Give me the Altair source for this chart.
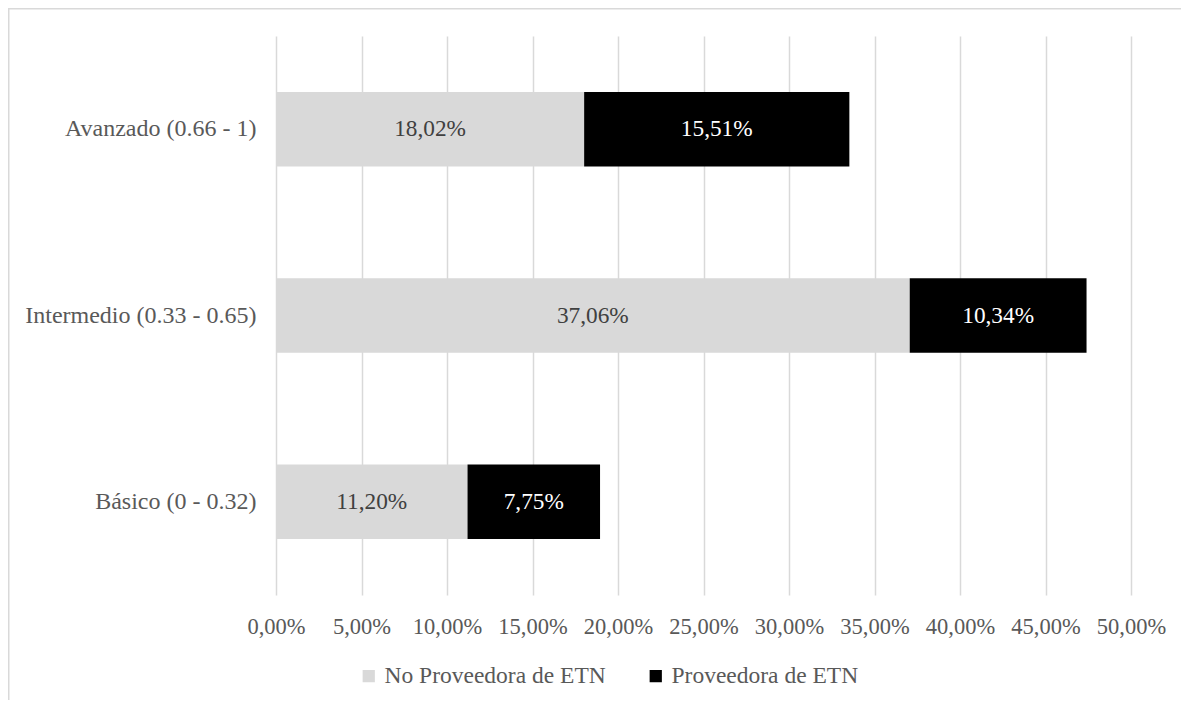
import altair as alt
import pandas as pd

categories = ["Avanzado (0.66 - 1)", "Intermedio (0.33 - 0.65)", "Básico (0 - 0.32)"]
series = ["No Proveedora de ETN", "Proveedora de ETN"]
no_proveedora = [18.02, 37.06, 11.20]
proveedora = [15.51, 10.34, 7.75]
x_ticks = [0, 5, 10, 15, 20, 25, 30, 35, 40, 45, 50]

rows = []
for i, c in enumerate(categories):
    rows.append({"cat": c, "serie": series[0], "ord": 0, "value": no_proveedora[i]})
    rows.append({"cat": c, "serie": series[1], "ord": 1, "value": proveedora[i]})
df = pd.DataFrame(rows)

FONT = "Liberation Serif"
color_scale = alt.Scale(domain=series, range=["#D9D9D9", "#000000"])

base = alt.Chart(df).transform_stack(
    stack="value", groupby=["cat"], sort=[alt.SortField("ord", order="ascending")], as_=["x0", "x1"]
).transform_calculate(
    mid="(datum.x0 + datum.x1) / 2",
    label="replace(format(datum.value, '.2f'), '.', ',') + '%'",
)

y_enc = alt.Y("cat:N", sort=categories, title=None,
              scale=alt.Scale(paddingInner=0.6, paddingOuter=0.3),
              axis=alt.Axis(labelFontSize=24, labelColor="#595959", labelFont=FONT,
                            labelPadding=20, ticks=False, domain=False, grid=False,
                            labelLimit=300))

bars = base.mark_bar().encode(
    x=alt.X("x0:Q", title=None,
            scale=alt.Scale(domain=[0, 50], nice=False),
            axis=alt.Axis(values=x_ticks, labelExpr="replace(format(datum.value, '.2f'), '.', ',') + '%'",
                          labelFontSize=22.5, labelColor="#595959", labelFont=FONT,
                          labelPadding=20, ticks=False, domain=False, labelOverlap=False,
                          labelFlush=False, labelAlign="center",
                          grid=True, gridColor="#D9D9D9", gridWidth=1.5)),
    x2="x1:Q",
    y=y_enc,
    color=alt.Color("serie:N", scale=color_scale, sort=series, title=None,
                    legend=alt.Legend(orient="none", legendX=81, legendY=628,
                                      direction="horizontal", symbolType="square",
                                      symbolSize=150, symbolStrokeWidth=0,
                                      labelFontSize=23.5, labelColor="#595959", labelFont=FONT,
                                      labelLimit=400, columnPadding=38, labelOffset=4)),
)

text = base.mark_text(font=FONT, fontSize=23.3).encode(
    x="mid:Q",
    y=alt.Y("cat:N", sort=categories),
    text="label:N",
    color=alt.Color("serie:N", scale=alt.Scale(domain=series, range=["#404040", "#FFFFFF"]), legend=None),
)

frame = alt.Chart(pd.DataFrame({"k": [0]})).mark_rect(
    fill="white", fillOpacity=0, stroke="#D9D9D9", strokeWidth=1.5
).encode(x=alt.value(-267.25), x2=alt.value(1000), y=alt.value(-27.25), y2=alt.value(800))

chart = alt.layer(frame, bars, text).resolve_scale(color="independent").properties(
    width=855, height=559,
    autosize=alt.AutoSizeParams(type="none"),
    padding={"top": 28, "left": 268, "right": 50, "bottom": 105},
).configure_view(stroke=None)

chart.save("out.html", embed_options={"renderer": "svg", "actions": False})
